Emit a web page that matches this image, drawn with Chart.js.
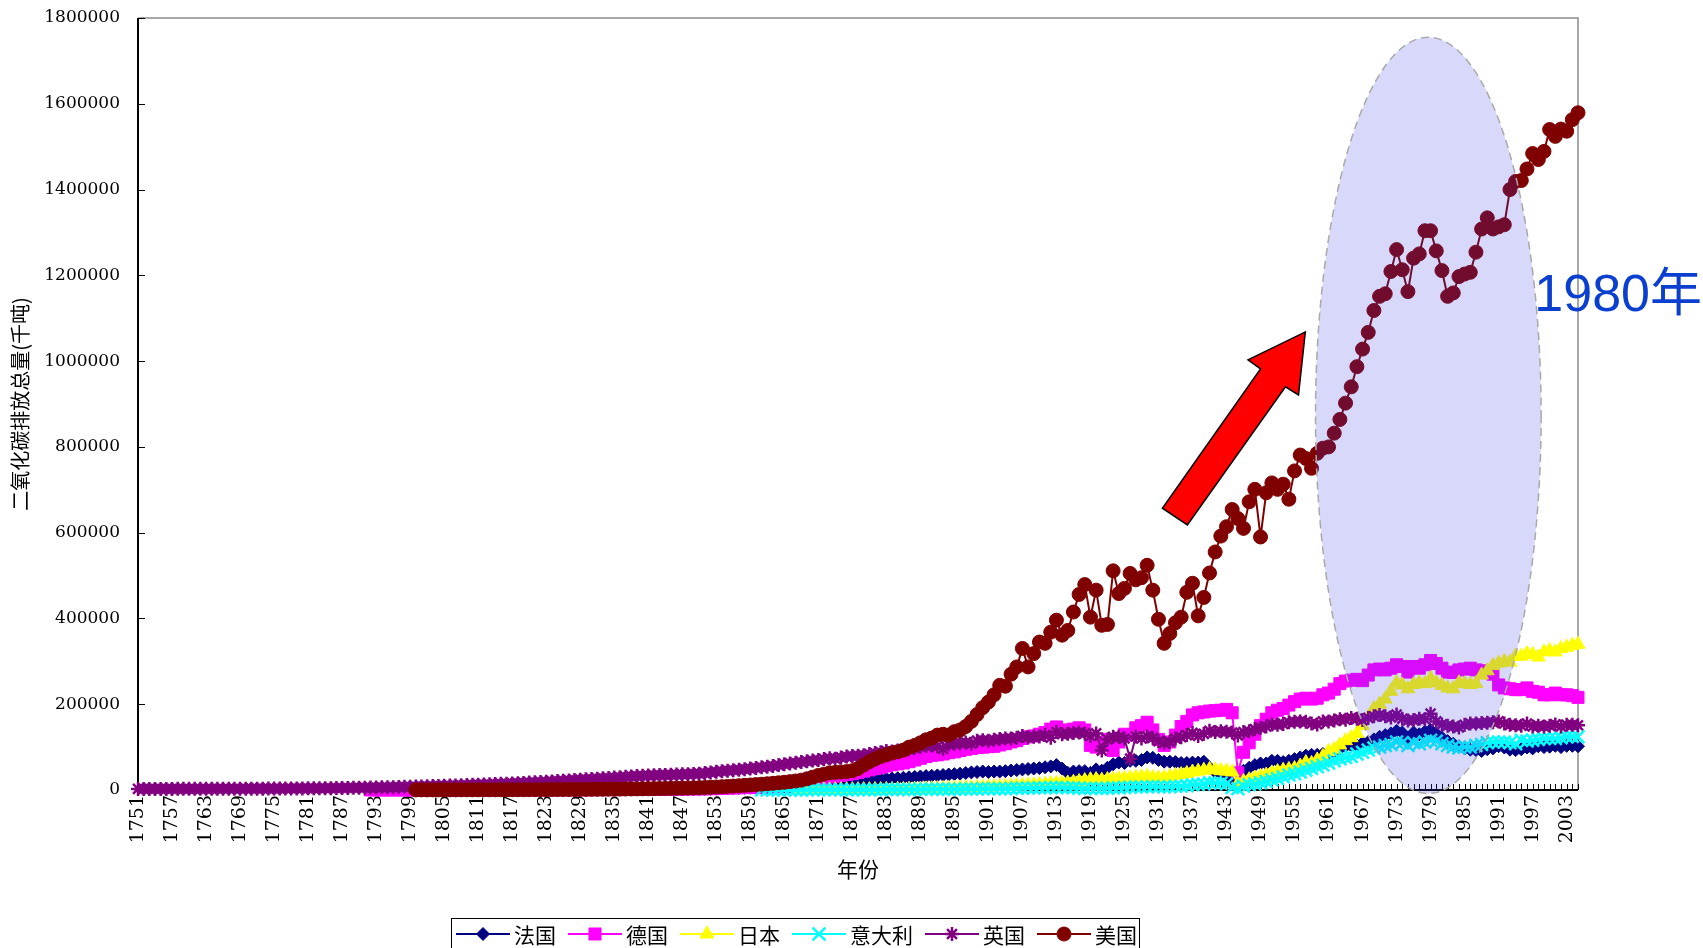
<!DOCTYPE html>
<html lang="zh-CN">
<head>
<meta charset="utf-8">
<title>二氧化碳排放总量</title>
<script src="https://cdn.jsdelivr.net/npm/chart.js@4/dist/chart.umd.min.js"></script>
<style>
  html, body { margin: 0; padding: 0; background: #fff; }
  canvas { display: block; }
</style>
</head>
<body>
<canvas id="c" width="1703" height="948"></canvas>
<script>
// ---- categories: one per year, 1751–2005 ----
const firstYear = 1751;
const lastYear = 2005;
const years = [];
for (let yr = firstYear; yr <= lastYear; yr++) years.push(String(yr));

// y-axis tick values (thousand tonnes)
const yTickValues = [0, 200000, 400000, 600000, 800000, 1000000, 1200000, 1400000, 1600000, 1800000];

// ---- series (thousand tonnes), each with the year its record begins ----
const franceStart = 1802;
const france = [
  100, 110, 120, 130, 140, 150, 160, 170,
  180, 200, 220, 240, 260, 280, 300, 320, 340, 360,
  380, 400, 430, 460, 500, 540, 580, 620, 660, 700,
  740, 780, 820, 870, 920, 980, 1050, 1120, 1200, 1280,
  1360, 1450, 1550, 1650, 1750, 1850, 1950, 2050, 2150, 2250,
  2400, 2600, 2900, 3200, 3600, 4000, 4400, 4700, 5000, 5400,
  5800, 6300, 6800, 7300, 7800, 8300, 8800, 9300, 9800, 10300,
  10000, 11500, 13000, 14500, 15500, 16500, 17500, 18500, 19500, 20500,
  22000, 23500, 25000, 26500, 27000, 27500, 28500, 29500, 30500, 31500,
  32500, 33000, 34000, 35000, 36000, 37000, 38000, 39500, 41000, 42000,
  43000, 42000, 43000, 43000, 44000, 45500, 46500, 48000, 49000, 50000,
  51000, 53000, 55000, 58000, 50000, 40000, 43000, 44000, 44000, 40000,
  48000, 45000, 52000, 60000, 64000, 63000, 68000, 68000, 70000, 76000,
  75000, 70000, 66000, 66000, 65000, 63000, 63000, 64000, 64000, 66000,
  52000, 42000, 40000, 38000, 26000, 24000, 45000, 52000, 58000, 62000,
  62000, 68000, 68000, 65000, 68000, 72000, 76000, 80000, 82000, 82000,
  84000, 86000, 90000, 96000, 102000, 104000, 104000, 110000, 112000, 118000,
  124000, 128000, 132000, 138000, 134000, 122000, 134000, 130000, 136000, 140000,
  132000, 122000, 114000, 108000, 102000, 97000, 94000, 93000, 91000, 95000,
  97000, 102000, 99000, 94000, 93000, 95000, 99000, 97000, 102000, 100000,
  101000, 103000, 100000, 103000, 103000, 102000
];

const germanyStart = 1792;
const germany = [
  100, 110, 120, 130, 140, 150, 160, 170,
  180, 190, 200, 210, 220, 230, 240, 250, 260, 270,
  280, 290, 300, 320, 340, 360, 380, 400, 420, 440,
  460, 480, 500, 530, 560, 590, 620, 650, 680, 720,
  760, 800, 850, 900, 950, 1000, 1080, 1160, 1240, 1320,
  1400, 1500, 1600, 1700, 1800, 1900, 2000, 2150, 2300, 2450,
  2600, 2800, 3000, 3300, 3700, 4200, 4700, 5200, 5700, 6200,
  5500, 6200, 7000, 8000, 9000, 10500, 12000, 14000, 16500, 18500,
  21000, 24000, 27000, 30000, 32000, 34000, 36000, 38000, 41000, 44000,
  47000, 50000, 53000, 56000, 59000, 61000, 63000, 66000, 70000, 74000,
  78000, 81000, 82000, 84000, 87000, 89000, 92000, 95000, 97000, 99000,
  100000, 101000, 102000, 105000, 108000, 112000, 115000, 120000, 124000, 126000,
  130000, 134000, 142000, 147000, 140000, 138000, 142000, 145000, 140000, 104000,
  100000, 106000, 118000, 92000, 112000, 130000, 128000, 145000, 150000, 158000,
  140000, 118000, 104000, 112000, 128000, 148000, 160000, 175000, 180000, 182000,
  184000, 185000, 186000, 188000, 180000, 40000, 88000, 110000, 130000, 150000,
  165000, 180000, 186000, 190000, 198000, 206000, 212000, 214000, 212000, 214000,
  222000, 226000, 235000, 248000, 254000, 256000, 258000, 255000, 268000, 280000,
  282000, 280000, 284000, 292000, 288000, 275000, 288000, 284000, 292000, 302000,
  295000, 284000, 275000, 274000, 280000, 282000, 284000, 280000, 278000, 276000,
  270000, 245000, 238000, 236000, 234000, 234000, 238000, 230000, 228000, 222000,
  222000, 226000, 222000, 222000, 220000, 216000
];

const japanStart = 1868;
const japan = [
  200, 250,
  300, 350, 400, 450, 500, 550, 600, 700, 800, 900,
  1000, 1100, 1200, 1300, 1400, 1500, 1700, 1900, 2100, 2400,
  2700, 2900, 3200, 3500, 3900, 4300, 4600, 5000, 5500, 6000,
  6500, 7000, 7300, 7800, 8400, 9000, 9800, 10500, 11200, 11800,
  12500, 13500, 14500, 15500, 16000, 16500, 18000, 20000, 22000, 24000,
  24500, 23000, 24500, 25500, 26500, 27000, 28000, 29500, 30500, 31500,
  29000, 28000, 29000, 31500, 34000, 36000, 38500, 42000, 44000, 46000,
  48000, 47000, 45000, 44000, 42000, 15000, 20000, 24000, 28000, 32000,
  35000, 40000, 43000, 46000, 48000, 50000, 56000, 64000, 62000, 70000,
  78000, 90000, 95000, 105000, 115000, 122000, 132000, 150000, 170000, 190000,
  200000, 212000, 230000, 250000, 245000, 236000, 246000, 250000, 248000, 260000,
  250000, 244000, 238000, 236000, 250000, 248000, 246000, 248000, 268000, 278000,
  290000, 296000, 300000, 298000, 312000, 312000, 318000, 316000, 310000, 322000,
  325000, 322000, 330000, 333000, 337000, 340000
];

const italyStart = 1861;
const italy = [
  100, 120, 140, 160, 180, 200, 230, 260, 290,
  320, 350, 380, 420, 460, 500, 540, 580, 620, 660,
  700, 750, 800, 900, 1000, 1100, 1200, 1300, 1400, 1500,
  1600, 1700, 1700, 1800, 1800, 1900, 2000, 2100, 2300, 2500,
  2700, 2800, 2900, 3000, 3200, 3500, 3800, 4200, 4500, 4800,
  5000, 5400, 5800, 6000, 5600, 5400, 5000, 4000, 3500, 3800,
  3800, 3600, 4200, 5000, 5400, 6000, 6500, 7000, 7000, 7500,
  8000, 7500, 7000, 7500, 8500, 9000, 10000, 12000, 13000, 14000,
  17000, 17000, 16000, 14000, 6000, 3000, 9000, 12000, 14000, 17000,
  20000, 24000, 27000, 31000, 35000, 38000, 42000, 46000, 50000, 54000,
  58000, 63000, 68000, 73000, 76000, 78000, 84000, 88000, 93000, 98000,
  100000, 104000, 106000, 112000, 110000, 104000, 110000, 108000, 112000, 116000,
  114000, 108000, 104000, 100000, 98000, 100000, 100000, 104000, 106000, 110000,
  112000, 112000, 112000, 110000, 108000, 116000, 114000, 116000, 118000, 120000,
  120000, 120000, 122000, 124000, 125000, 124000
];

const ukStart = 1751;
const uk = [
  2550, 2550, 2560, 2570, 2580, 2600, 2610, 2630, 2650,
  2700, 2720, 2750, 2780, 2800, 2850, 2880, 2920, 2960, 3000,
  3050, 3100, 3150, 3200, 3260, 3320, 3380, 3450, 3520, 3600,
  3700, 3800, 3900, 4000, 4150, 4300, 4450, 4600, 4800, 5000,
  5200, 5400, 5650, 5900, 6150, 6400, 6700, 7000, 7300, 7600,
  8000, 8300, 8700, 9100, 9500, 9900, 10300, 10700, 11100, 11500,
  12000, 12400, 12800, 13300, 13800, 14300, 14800, 15400, 16000, 16600,
  17200, 17900, 18600, 19300, 20000, 20800, 21600, 22400, 23200, 24000,
  24800, 25600, 26400, 27200, 28000, 28900, 29800, 30700, 31600, 32500,
  33200, 33800, 34300, 34800, 35200, 35600, 36000, 36500, 37000, 37500,
  38000, 39500, 41000, 42500, 44000, 45000, 46000, 47500, 48500, 50000,
  51500, 53000, 54500, 56000, 58000, 60000, 62000, 63500, 65000, 67000,
  68500, 70000, 72000, 74000, 73000, 76000, 78000, 79000, 80000, 81000,
  84000, 86000, 88000, 91000, 90000, 92000, 93000, 95000, 98000, 101000,
  103000, 104000, 102000, 96000, 106000, 108000, 109000, 111000, 108000, 115000,
  116000, 115000, 117000, 119000, 120000, 120000, 122000, 126000, 123000, 124000,
  125000, 128000, 122000, 135000, 130000, 131000, 133000, 134000, 132000, 126000,
  132000, 92000, 118000, 124000, 124000, 120000, 73000, 125000, 120000, 125000,
  122000, 114000, 110000, 112000, 120000, 123000, 128000, 133000, 126000, 131000,
  138000, 135000, 137000, 136000, 134000, 127000, 135000, 137000, 142000, 145000,
  148000, 153000, 152000, 154000, 158000, 159000, 160000, 159000, 155000, 153000,
  160000, 160000, 162000, 165000, 164000, 168000, 166000, 163000, 168000, 172000,
  175000, 172000, 169000, 176000, 166000, 162000, 163000, 166000, 165000, 178000,
  160000, 153000, 150000, 148000, 146000, 152000, 155000, 155000, 156000, 157000,
  158000, 160000, 155000, 152000, 151000, 150000, 155000, 148000, 150000, 148000,
  150000, 153000, 148000, 152000, 152000, 151000
];

const usaStart = 1800;
const usa = [
  250, 260, 270, 290, 300, 320, 340, 360, 380, 400,
  420, 450, 480, 500, 530, 560, 600, 640, 680, 720,
  760, 800, 860, 920, 980, 1050, 1120, 1200, 1280, 1360,
  1450, 1550, 1650, 1760, 1880, 2000, 2140, 2280, 2430, 2600,
  2780, 2960, 3160, 3380, 3600, 3850, 4100, 4380, 4680, 5000,
  5400, 5900, 6400, 7000, 7700, 8400, 9200, 10000, 10800, 11700,
  12600, 13500, 14500, 15600, 16800, 18000, 19500, 21000, 23000, 26000,
  30000, 34000, 37000, 40000, 41000, 42000, 43000, 45000, 50000, 58000,
  66000, 72000, 78000, 82000, 86000, 89000, 93000, 100000, 104000, 110000,
  117000, 121000, 128000, 130000, 128000, 136000, 140000, 148000, 160000, 176000,
  192000, 205000, 222000, 244000, 242000, 270000, 287000, 330000, 287000, 318000,
  345000, 342000, 368000, 396000, 361000, 372000, 415000, 456000, 479000, 403000,
  466000, 384000, 386000, 511000, 458000, 470000, 505000, 490000, 495000, 524000,
  466000, 398000, 342000, 365000, 390000, 403000, 461000, 482000, 406000, 449000,
  506000, 555000, 592000, 614000, 654000, 633000, 610000, 672000, 701000, 590000,
  693000, 716000, 701000, 713000, 678000, 744000, 781000, 773000, 750000, 785000,
  797000, 800000, 832000, 864000, 902000, 940000, 987000, 1028000, 1067000, 1118000,
  1151000, 1157000, 1209000, 1260000, 1213000, 1162000, 1240000, 1250000, 1304000, 1304000,
  1257000, 1211000, 1151000, 1159000, 1197000, 1203000, 1207000, 1254000, 1308000, 1334000,
  1308000, 1313000, 1318000, 1400000, 1419000, 1421000, 1448000, 1484000, 1470000, 1489000,
  1540000, 1524000, 1541000, 1536000, 1563000, 1579000
];

// ---- annotation shapes, in (year, value) units ----
const highlightOval = { fromYear: 1958.7, toYear: 1998.5, low: -8000, high: 1755000 };
const trendArrow = [
  [1931.7, 657000], [1949.0, 982000], [1946.8, 1003000], [1956.9, 1068000],
  [1955.7, 921000], [1953.4, 940000], [1936.1, 618000]
];
const calloutText = { text: '1980年', year: 1997.3, value: 1116000 };

// spread a series over the full year axis (nulls before its first year)
function alignToYears(start, values) {
  const out = years.map(() => null);
  values.forEach((v, i) => { out[start - firstYear + i] = v; });
  return out;
}

function series(label, start, values, color, style, radius, pointLine, order) {
  return {
    label,
    data: alignToYears(start, values),
    borderColor: color,
    backgroundColor: color,
    pointBackgroundColor: color,
    pointBorderColor: color,
    borderWidth: 2,
    pointStyle: style,
    pointRadius: radius,
    pointHoverRadius: radius,
    pointBorderWidth: pointLine,
    tension: 0,
    clip: false,
    order
  };
}

const datasets = [
  series('法国',   franceStart,  france,  '#000080', 'rectRot',  6.5, 1,   6),
  series('德国',   germanyStart, germany, '#FF00FF', 'rect',     8.5, 1,   5),
  series('日本',   japanStart,   japan,   '#FFFF00', 'triangle', 8,   1,   4),
  series('意大利', italyStart,   italy,   '#00FFFF', 'crossRot', 9,   2.5, 3),
  series('英国',   ukStart,      uk,      '#800080', 'star',     7,   2.5, 2),
  series('美国',   usaStart,     usa,     '#800000', 'circle',   7,   1,   1)
];

function markerAt(ctx, ds, px, py) {
  ctx.save();
  ctx.fillStyle = ds.pointBackgroundColor;
  ctx.strokeStyle = ds.pointBorderColor;
  ctx.lineWidth = ds.pointBorderWidth;
  if (Chart.helpers && Chart.helpers.drawPoint) {
    Chart.helpers.drawPoint(ctx, {
      pointStyle: ds.pointStyle, radius: ds.pointRadius, rotation: 0, borderWidth: ds.pointBorderWidth
    }, px, py);
  } else {
    ctx.beginPath();
    ctx.arc(px, py, ds.pointRadius, 0, Math.PI * 2);
    ctx.fill();
  }
  ctx.restore();
}

const chartDecor = {
  id: 'chartDecor',
  beforeDatasetsDraw(chart) {
    const { ctx, chartArea: a, scales: { x, y } } = chart;
    ctx.save();
    // grey frame on the top and right of the plot area
    ctx.strokeStyle = '#8c8c8c';
    ctx.lineWidth = 1.5;
    ctx.beginPath();
    ctx.moveTo(a.left, a.top);
    ctx.lineTo(a.right, a.top);
    ctx.lineTo(a.right, a.bottom);
    ctx.stroke();
    // inward tick marks: one per year on x, one per major value on y
    ctx.strokeStyle = '#000';
    ctx.lineWidth = 1;
    ctx.beginPath();
    years.forEach((_, i) => {
      const px = Math.round(x.getPixelForValue(i)) + 0.5;
      ctx.moveTo(px, a.bottom);
      ctx.lineTo(px, a.bottom - 6);
    });
    y.ticks.forEach(t => {
      const py = Math.round(y.getPixelForValue(t.value)) + 0.5;
      ctx.moveTo(a.left, py);
      ctx.lineTo(a.left + 7, py);
    });
    ctx.stroke();
    // axis lines
    ctx.lineWidth = 2;
    ctx.beginPath();
    ctx.moveTo(a.left, a.top);
    ctx.lineTo(a.left, a.bottom);
    ctx.lineTo(a.right, a.bottom);
    ctx.stroke();
    ctx.restore();
  },
  afterDraw(chart) {
    const { ctx, scales: { x, y } } = chart;
    const px = yr => x.getPixelForValue(yr - firstYear);
    const py = v => y.getPixelForValue(v);
    ctx.save();

    // translucent oval around the post-war surge
    const x0 = px(highlightOval.fromYear), x1 = px(highlightOval.toYear);
    const y0 = py(highlightOval.high), y1 = py(highlightOval.low);
    ctx.beginPath();
    ctx.ellipse((x0 + x1) / 2, (y0 + y1) / 2, (x1 - x0) / 2, (y1 - y0) / 2, 0, 0, Math.PI * 2);
    ctx.fillStyle = 'rgba(60, 60, 230, 0.2)';
    ctx.fill();
    ctx.setLineDash([8, 5]);
    ctx.strokeStyle = '#a9a9a9';
    ctx.lineWidth = 1.5;
    ctx.stroke();
    ctx.setLineDash([]);

    // red arrow
    ctx.beginPath();
    trendArrow.forEach(([yr, v], i) => {
      if (i === 0) ctx.moveTo(px(yr), py(v)); else ctx.lineTo(px(yr), py(v));
    });
    ctx.closePath();
    ctx.fillStyle = '#ff0000';
    ctx.fill();
    ctx.strokeStyle = '#000';
    ctx.lineWidth = 1.5;
    ctx.lineJoin = 'miter';
    ctx.stroke();

    // callout
    ctx.font = '52px "Liberation Sans", Arial, "Noto Sans CJK SC", sans-serif';
    ctx.fillStyle = '#0b3fd0';
    ctx.textBaseline = 'alphabetic';
    ctx.textAlign = 'left';
    ctx.fillText(calloutText.text, px(calloutText.year), py(calloutText.value));

    // legend: line + marker + name, inside a framed box
    const boxLeft = 451, boxTop = 918, rowY = 934;
    ctx.font = '21px "Noto Sans CJK SC", sans-serif';
    ctx.textBaseline = 'middle';
    let cx = boxLeft + 5;
    const parts = datasets.map(ds => {
      const w = ctx.measureText(ds.label).width;
      const item = { ds, lineX: cx, textX: cx + 58, w };
      cx += 58 + w + 12;
      return item;
    });
    const boxRight = cx - 12 + 2;
    ctx.strokeStyle = '#000';
    ctx.lineWidth = 1;
    ctx.strokeRect(boxLeft + 0.5, boxTop + 0.5, boxRight - boxLeft, 60);
    parts.forEach(({ ds, lineX, textX }) => {
      ctx.strokeStyle = ds.borderColor;
      ctx.lineWidth = 2;
      ctx.beginPath();
      ctx.moveTo(lineX, rowY);
      ctx.lineTo(lineX + 54, rowY);
      ctx.stroke();
      markerAt(ctx, ds, lineX + 27, rowY);
      ctx.fillStyle = '#000';
      ctx.fillText(ds.label, textX, rowY + 1);
    });
    ctx.restore();
  }
};

new Chart(document.getElementById('c').getContext('2d'), {
  type: 'line',
  data: { labels: years, datasets },
  plugins: [chartDecor],
  options: {
    responsive: false,
    animation: false,
    events: [],
    layout: { padding: { left: 0, right: 125, top: 18, bottom: 62 } },
    plugins: { legend: { display: false }, tooltip: { enabled: false } },
    scales: {
      x: {
        type: 'category',
        offset: false,
        grid: { display: false, drawTicks: false },
        border: { display: false },
        ticks: {
          autoSkip: false,
          minRotation: 90,
          maxRotation: 90,
          padding: 5,
          color: '#000',
          font: { family: '"DejaVu Serif", serif', size: 19 },
          callback: (v, i) => ((Number(years[i]) - firstYear) % 6 === 0 ? years[i] : '')
        },
        title: {
          display: true,
          text: '年份',
          color: '#000',
          font: { family: '"Noto Sans CJK SC", sans-serif', size: 21 },
          padding: { top: 4, bottom: 4 }
        },
        afterFit(scale) { scale.height = 96; }
      },
      y: {
        min: 0,
        max: 1800000,
        grid: { display: false, drawTicks: false },
        border: { display: false },
        afterBuildTicks(scale) { scale.ticks = yTickValues.map(v => ({ value: v })); },
        ticks: {
          padding: 18,
          color: '#000',
          font: { family: '"DejaVu Serif", serif', size: 17 },
          callback: v => String(v)
        },
        title: {
          display: true,
          text: '二氧化碳排放总量(千吨)',
          color: '#000',
          font: { family: '"Noto Sans CJK SC", sans-serif', size: 20 },
          padding: { top: 8, bottom: 0 }
        },
        afterFit(scale) {
          scale.width = 138;
          scale.paddingTop = 10;
          scale.paddingBottom = 10;
        }
      }
    }
  }
});
</script>
</body>
</html>
